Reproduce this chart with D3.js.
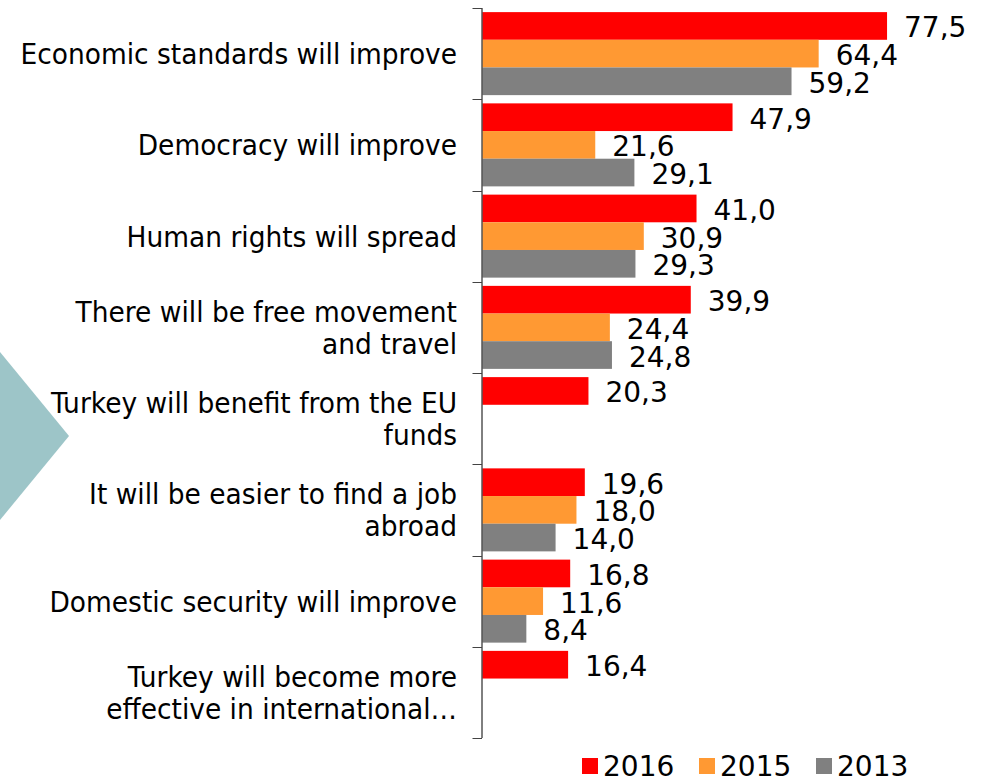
<!DOCTYPE html>
<html>
<head>
<meta charset="utf-8">
<script src="https://cdn.jsdelivr.net/npm/d3@7"></script>
<style>
  html, body { margin: 0; padding: 0; background: #fff; }
  svg { display: block; }
  text { font-family: "DejaVu Sans", Verdana, sans-serif; fill: #000; }
</style>
</head>
<body>
<svg id="chart" width="984" height="780"></svg>
<script>
// ---- data ----
const categories = [
  "Economic standards will improve",
  "Democracy will improve",
  "Human rights will spread",
  "There will be free movement\nand travel",
  "Turkey will benefit from the EU\nfunds",
  "It will be easier to find a job\nabroad",
  "Domestic security will improve",
  "Turkey will become more\neffective in international\u2026"
];
const seriesNames = ["2016", "2015", "2013"];
const values2016 = [77.5, 47.9, 41.0, 39.9, 20.3, 19.6, 16.8, 16.4];
const values2015 = [64.4, 21.6, 30.9, 24.4, null, 18.0, 11.6, null];
const values2013 = [59.2, 29.1, 29.3, 24.8, null, 14.0, 8.4, null];
const seriesValues = [values2016, values2015, values2013];
const colors = ["#ff0000", "#ff9933", "#808080"];

// ---- layout ----
const svg = d3.select("#chart");
const plotTop = 8, plotBottom = 738, axisX = 482.5;

// decorative diamond on the left
svg.append("polygon")
  .attr("points", "69,436 0,352 0,520")
  .attr("fill", "#9dc5c8");

const y = d3.scaleBand().domain(d3.range(categories.length)).range([plotTop, plotBottom]).padding(0);
const yInner = d3.scaleBand().domain(d3.range(seriesNames.length)).range([0, y.bandwidth()])
  .paddingInner(0).paddingOuter(0.149);
const x = d3.scaleLinear().domain([0, 90]).range([axisX, axisX + 90 * 5.22]);

const fmt = v => d3.format(".1f")(v).replace(".", ",");

// bars
const groups = svg.append("g").selectAll("g")
  .data(categories.map((c, i) => i))
  .join("g")
  .attr("transform", i => `translate(0,${y(i)})`);

groups.each(function(i) {
  const g = d3.select(this);
  seriesValues.forEach((vals, s) => {
    const v = vals[i];
    if (v == null) return;
    g.append("rect")
      .attr("x", x(0))
      .attr("y", yInner(s))
      .attr("width", x(v) - x(0))
      .attr("height", yInner.bandwidth())
      .attr("fill", colors[s]);
    g.append("text")
      .attr("x", x(v) + 17)
      .attr("y", yInner(s) + yInner.bandwidth() / 2 + 11.5)
      .attr("font-size", 28)
      .text(fmt(v));
  });
});

// axis (left, ticks at band boundaries)
const axisG = svg.append("g");
axisG.append("line")
  .attr("x1", axisX - 0.5).attr("x2", axisX - 0.5)
  .attr("y1", plotTop).attr("y2", plotBottom)
  .attr("stroke", "#000").attr("stroke-width", 1);
const boundaries = d3.range(categories.length + 1).map(i => i === categories.length ? plotBottom : y(i));
axisG.selectAll("line.tick").data(boundaries).join("line")
  .attr("class", "tick")
  .attr("x1", axisX - 10).attr("x2", axisX - 0.5)
  .attr("y1", d => Math.round(d) + 0.5).attr("y2", d => Math.round(d) + 0.5)
  .attr("stroke", "#444").attr("stroke-width", 1);

// category labels
const labelX = 457;
categories.forEach((c, i) => {
  const lines = c.split("\n");
  const cy = y(i) + y.bandwidth() / 2 + 10.5;
  const lh = 32;
  const g = svg.append("g")
    .attr("transform", `translate(${labelX},${cy - (lines.length - 1) * lh / 2}) scale(0.945,1)`);
  lines.forEach((ln, k) => {
    g.append("text")
      .attr("x", 0)
      .attr("y", k * lh)
      .attr("text-anchor", "end")
      .attr("font-size", 28)
      .text(ln);
  });
});

// legend
const legendX = [582, 699, 816];
const legend = svg.append("g");
seriesNames.forEach((n, s) => {
  legend.append("rect")
    .attr("x", legendX[s]).attr("y", 758)
    .attr("width", 16).attr("height", 16)
    .attr("fill", colors[s]);
  legend.append("text")
    .attr("x", legendX[s] + 21).attr("y", 776)
    .attr("font-size", 28)
    .text(n);
});
</script>
</body>
</html>
